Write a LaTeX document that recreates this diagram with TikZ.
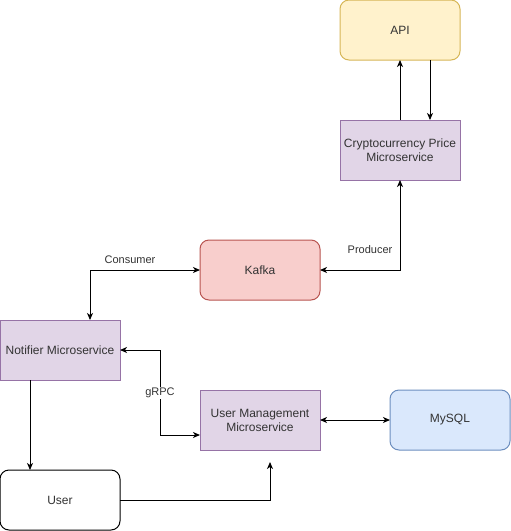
\documentclass[tikz,border=0pt]{standalone}
\usepackage{fontspec}
\setmainfont{Liberation Sans}
\usetikzlibrary{arrows.meta}
\definecolor{yfill}{HTML}{FFF2CC}\definecolor{ydraw}{HTML}{D6B656}
\definecolor{pfill}{HTML}{E1D5E7}\definecolor{pdraw}{HTML}{9673A6}
\definecolor{rfill}{HTML}{F8CECC}\definecolor{rdraw}{HTML}{B85450}
\definecolor{bfill}{HTML}{DAE8FC}\definecolor{bdraw}{HTML}{6C8EBF}
\definecolor{txt}{HTML}{333333}
\begin{document}
\begin{tikzpicture}[x=1pt,y=-1pt,
  box/.style={draw,line width=1pt,minimum width=120pt,minimum height=60pt,inner sep=2pt,outer sep=0pt,align=center,font=\fontsize{12}{14}\selectfont,text=txt},
  rbox/.style={box,rounded corners=9pt},
  conn/.style={line width=1pt,-{Stealth[length=7pt,width=6pt,inset=2pt]}},
  bconn/.style={line width=1pt,{Stealth[length=7pt,width=6pt,inset=2pt]}-{Stealth[length=7pt,width=6pt,inset=2pt]}},
  lbl/.style={font=\fontsize{11}{13}\selectfont,text=txt,fill=white,inner sep=1pt}]
\useasboundingbox (0,0) rectangle (511,531);
\node[rbox,fill=yfill,draw=ydraw] (api) at (400,30) {API};
\node[box,fill=pfill,draw=pdraw] (crypto) at (400,150) {Cryptocurrency Price\\Microservice};
\node[rbox,fill=rfill,draw=rdraw] (kafka) at (260,270) {Kafka};
\node[box,fill=pfill,draw=pdraw] (notifier) at (60,350) {Notifier Microservice};
\node[box,fill=pfill,draw=pdraw] (um) at (260,420) {User Management\\Microservice};
\node[rbox,fill=bfill,draw=bdraw] (mysql) at (450,420) {MySQL};
\node[rbox,fill=white,draw=black] (user) at (60,500) {User};
\coordinate (g) at (160,435);
\coordinate (ut) at (270,462);
\draw[conn] (crypto.north) -- (api.south);
\draw[conn] ([xshift=30pt]api.south) -- ([xshift=30pt]crypto.north);
\draw[bconn] (kafka.east) -| (crypto.south);
\draw[bconn] (kafka.west) -| ([xshift=30pt]notifier.north);
\draw[bconn] (notifier.east) -| (g) -- ([yshift=-15pt]um.west);
\draw[bconn] (um.east) -- (mysql.west);
\draw[conn] ([xshift=-30pt]notifier.south) -- ([xshift=-30pt]user.north);
\draw[conn] (user.east) -| (ut);
\node[lbl] (lp) at (370,250) {Producer};
\node[lbl] (lc) at (130,260) {Consumer};
\node[lbl] (lg) at (160,393) {gRPC};
\end{tikzpicture}
\end{document}
